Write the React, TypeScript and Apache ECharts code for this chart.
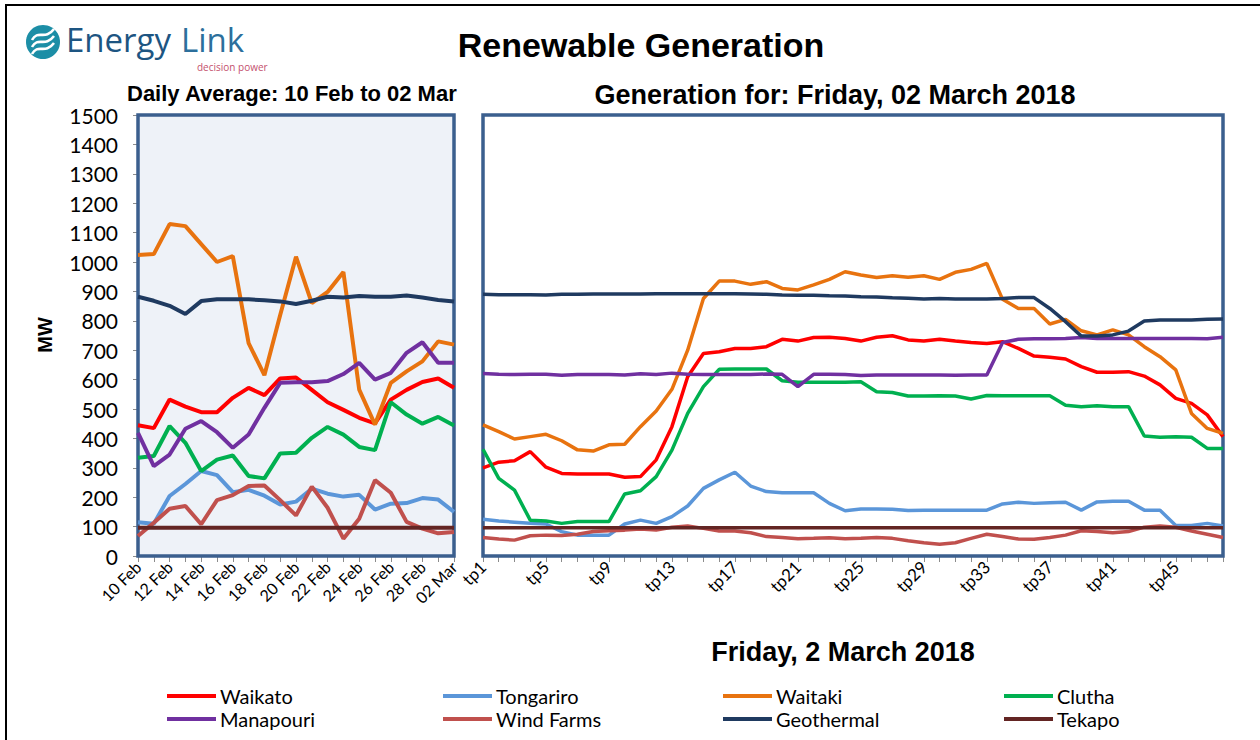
import React, { useEffect, useRef } from "react";
import * as echarts from "echarts";

const dayLabels = ["10 Feb","11 Feb","12 Feb","13 Feb","14 Feb","15 Feb","16 Feb","17 Feb","18 Feb","19 Feb","20 Feb","21 Feb","22 Feb","23 Feb","24 Feb","25 Feb","26 Feb","27 Feb","28 Feb","01 Mar","02 Mar"];
const tpLabels = ["tp1","tp2","tp3","tp4","tp5","tp6","tp7","tp8","tp9","tp10","tp11","tp12","tp13","tp14","tp15","tp16","tp17","tp18","tp19","tp20","tp21","tp22","tp23","tp24","tp25","tp26","tp27","tp28","tp29","tp30","tp31","tp32","tp33","tp34","tp35","tp36","tp37","tp38","tp39","tp40","tp41","tp42","tp43","tp44","tp45","tp46","tp47","tp48"];
const yTicks = [0, 1500, 100];

// Daily averages (MW)
const waikatoDaily = [445,435,532,508,489,489,538,572,547,604,607,565,523,497,470,451,532,565,592,604,572];
const tongariroDaily = [115,110,204,245,289,275,217,225,205,175,185,229,212,202,208,158,178,180,197,192,150];
const waitakiDaily = [1024,1027,1129,1122,1061,1000,1020,724,615,820,1018,860,898,966,566,447,589,628,662,730,719];
const cluthaDaily = [334,340,442,385,289,328,342,272,264,349,351,402,439,413,371,360,523,481,450,473,444];
const manapouriDaily = [419,306,345,433,459,421,368,413,504,589,591,591,595,619,657,600,623,691,727,657,657];
const windDaily = [68,113,161,170,108,190,207,238,240,190,138,236,164,59,127,258,215,116,93,77,82];
const geothermalDaily = [882,868,851,823,867,873,873,873,870,866,857,868,882,879,884,882,882,886,879,871,866];
const tekapoDaily = [96,96,96,96,96,96,96,96,96,96,96,96,96,96,96,96,96,96,96,96,96];

// Trading periods, Friday 2 March 2018 (MW)
const waikatoTp = [300,319,324,355,302,281,279,279,279,268,270,327,440,610,689,695,706,706,712,737,731,743,744,740,731,744,749,735,731,737,731,726,723,729,706,680,676,670,644,625,625,627,612,582,536,519,480,406];
const tongariroTp = [125,119,115,111,109,83,71,71,71,109,122,111,134,170,230,259,285,238,219,215,215,215,179,154,160,160,159,155,156,156,156,156,156,177,183,179,181,183,156,184,186,186,156,156,104,104,111,102];
const waitakiTp = [446,423,398,406,414,392,361,357,378,380,440,493,567,700,876,935,935,924,933,910,905,922,941,967,956,947,953,948,953,941,965,975,995,873,842,842,789,805,766,752,769,752,712,678,633,485,434,417];
const cluthaTp = [363,264,224,122,119,111,117,117,117,211,222,270,360,485,576,635,636,636,636,596,591,591,591,591,593,559,556,544,544,545,544,534,546,545,545,545,545,513,508,511,508,508,408,404,406,404,366,366];
const manapouriTp = [621,618,617,618,618,615,617,617,617,616,620,617,622,618,617,617,617,617,619,618,576,618,618,617,614,616,616,616,616,616,615,616,616,726,737,739,739,740,743,740,740,740,740,740,740,740,739,744];
const windTp = [63,58,54,69,71,70,74,83,86,88,92,88,98,102,94,85,85,79,66,63,59,60,62,59,60,63,60,52,45,40,45,60,74,66,58,57,63,71,86,83,79,83,98,102,98,85,74,63];
const geothermalTp = [890,889,889,889,888,890,890,891,891,891,891,892,892,892,892,892,892,891,890,888,887,887,885,884,882,881,878,877,874,876,874,874,874,876,879,879,842,797,748,748,752,765,799,803,803,803,805,806];
const tekapoTp = [96,96,96,96,96,96,96,96,96,96,96,96,96,96,96,96,96,96,96,96,96,96,96,96,96,96,96,96,96,96,96,96,96,96,96,96,96,96,96,96,96,96,96,96,96,96,96,96];

const seriesNames = ["Waikato","Tongariro","Waitaki","Clutha","Manapouri","Wind Farms","Geothermal","Tekapo"];
const seriesColors = ["#ff0000","#5b96d9","#e8730f","#00b050","#7030a0","#c0504d","#1f3a60","#632523"];
const dailyData = [waikatoDaily, tongariroDaily, waitakiDaily, cluthaDaily, manapouriDaily, windDaily, geothermalDaily, tekapoDaily];
const tpData = [waikatoTp, tongariroTp, waitakiTp, cluthaTp, manapouriTp, windTp, geothermalTp, tekapoTp];

const LABEL_FONT = "Lato, 'Open Sans', sans-serif";
const BOLD_FONT = "'Liberation Sans', Arial, sans-serif";

export default function App() {
  const ref = useRef<HTMLDivElement>(null);
  useEffect(() => {
    if (!ref.current) return;
    const chart = echarts.init(ref.current, null, { renderer: "svg" });

    const majorLine = { lineStyle: { color: "#a6a6a6", width: 1.5 } };
    const minorLine = { show: true, lineStyle: { color: "#dcdcdc", width: 2 } };

    const series: any[] = [];
    seriesNames.forEach((name, i) => {
      series.push({
        name, type: "line", xAxisIndex: 0, yAxisIndex: 0, data: dailyData[i],
        showSymbol: false, symbol: "none", lineStyle: { color: seriesColors[i], width: 4 },
        itemStyle: { color: seriesColors[i] }, z: 3 + i,
      });
    });
    seriesNames.forEach((name, i) => {
      series.push({
        name, type: "line", xAxisIndex: 1, yAxisIndex: 1, data: tpData[i],
        showSymbol: false, symbol: "none", lineStyle: { color: seriesColors[i], width: 3.5 },
        itemStyle: { color: seriesColors[i] }, z: 3 + i,
      });
    });

    const legendLeft = [167, 443, 723, 1004];
    const legendTop = [686, 709];
    const legends = seriesNames.map((name, i) => ({
      data: [name],
      left: legendLeft[i % 4],
      top: legendTop[Math.floor(i / 4)],
      padding: 0,
      icon: "rect",
      itemWidth: 49,
      itemHeight: 4,
      itemGap: 0,
      textStyle: { fontFamily: LABEL_FONT, fontSize: 20, color: "#000", padding: [0, 0, 0, -1] },
      selectedMode: false,
    }));

    const wave = (ox: number, oy: number) => ({
      type: "bezierCurve",
      shape: { x1: ox - 11, y1: oy + 5, cpx1: ox - 5, cpy1: oy - 6, cpx2: ox + 2, cpy2: oy + 6, x2: ox + 11, y2: oy - 6 },
      style: { stroke: "#ffffff", lineWidth: 2.6, fill: null },
      z: 11,
    });

    chart.setOption({
      animation: false,
      backgroundColor: "#ffffff",
      grid: [
        { left: 138, top: 115, width: 316, height: 441, show: true, backgroundColor: "#eef2f8", borderColor: "#3b5f8e", borderWidth: 3.5, z: 1 },
        { left: 483, top: 115, width: 740, height: 441, show: true, backgroundColor: "#ffffff", borderColor: "#3b5f8e", borderWidth: 3.5, z: 1 },
      ],
      xAxis: [
        {
          type: "category", gridIndex: 0, data: dayLabels, boundaryGap: false,
          axisLine: { show: true, lineStyle: { color: "#8c8c8c" } },
          axisTick: { show: true, interval: 0, length: 6, lineStyle: { color: "#8c8c8c" } },
          axisLabel: { interval: 1, rotate: 45, margin: 8, fontFamily: LABEL_FONT, fontSize: 16, color: "#000" },
          splitLine: { show: true, interval: 1, lineStyle: { color: "#d6d6d6", width: 1.5 } },
        },
        {
          type: "category", gridIndex: 1, data: tpLabels, boundaryGap: false,
          axisLine: { show: true, lineStyle: { color: "#8c8c8c" } },
          axisTick: { show: true, interval: 0, length: 6, lineStyle: { color: "#8c8c8c" } },
          axisLabel: { interval: 3, rotate: 45, margin: 8, fontFamily: LABEL_FONT, fontSize: 17, color: "#000" },
          splitLine: { show: true, interval: 7, lineStyle: { color: "#d6d6d6", width: 1.5 } },
        },
      ],
      yAxis: [
        {
          type: "value", gridIndex: 0, min: yTicks[0], max: yTicks[1], interval: yTicks[2],
          axisLine: { show: true, lineStyle: { color: "#8c8c8c" } },
          axisTick: { show: true, length: 5, lineStyle: { color: "#8c8c8c" } },
          axisLabel: { margin: 20, fontFamily: LABEL_FONT, fontSize: 21, color: "#000", formatter: (v: number) => String(v) },
          splitLine: { show: true, ...majorLine },
          minorTick: { show: false, splitNumber: 2 },
          minorSplitLine: minorLine,
        },
        {
          type: "value", gridIndex: 1, min: yTicks[0], max: yTicks[1], interval: yTicks[2],
          axisLine: { show: false }, axisTick: { show: false }, axisLabel: { show: false },
          splitLine: { show: true, ...majorLine },
          minorTick: { show: false, splitNumber: 2 },
          minorSplitLine: minorLine,
        },
      ],
      legend: legends,
      series,
      graphic: [
        { type: "rect", shape: { x: 6, y: 5, width: 1300, height: 800 }, style: { fill: null, stroke: "#000", lineWidth: 2 }, z: 0, silent: true },
        { type: "circle", shape: { cx: 43, cy: 42, r: 17 }, style: { fill: "#1c8ea6" }, z: 10 },
        wave(43, 35),
        wave(43, 42),
        wave(43, 49),
        { type: "text", x: 66, y: 39, style: { text: "Energy", fontFamily: "'Open Sans', Lato, sans-serif", fontSize: 33, lineHeight: 34, fill: "#1d5582", textVerticalAlign: "middle" }, z: 10 },
        { type: "text", x: 181, y: 39, style: { text: "Link", fontFamily: "'Open Sans', Lato, sans-serif", fontSize: 33, lineHeight: 34, fill: "#2c6f9c", textVerticalAlign: "middle" }, z: 10 },
        { type: "text", x: 197, y: 67, style: { text: "decision power", fontFamily: "'Open Sans', sans-serif", fontSize: 10, lineHeight: 10, fill: "#c4506e", textVerticalAlign: "middle" }, z: 10 },
        { type: "text", x: 641, y: 45, style: { text: "Renewable Generation", fontFamily: BOLD_FONT, fontWeight: "bold", fontSize: 34, fill: "#000", textAlign: "center", textVerticalAlign: "middle" }, z: 10 },
        { type: "text", x: 127, y: 93, style: { text: "Daily Average: 10 Feb to 02 Mar", fontFamily: BOLD_FONT, fontWeight: "bold", fontSize: 22, fill: "#000", textVerticalAlign: "middle" }, z: 10 },
        { type: "text", x: 835, y: 95, style: { text: "Generation for: Friday, 02 March 2018", fontFamily: BOLD_FONT, fontWeight: "bold", fontSize: 27, fill: "#000", textAlign: "center", textVerticalAlign: "middle" }, z: 10 },
        { type: "text", x: 843, y: 652, style: { text: "Friday, 2 March 2018", fontFamily: BOLD_FONT, fontWeight: "bold", fontSize: 27, fill: "#000", textAlign: "center", textVerticalAlign: "middle" }, z: 10 },
        { type: "text", x: 45, y: 335, rotation: Math.PI / 2, style: { text: "MW", fontFamily: BOLD_FONT, fontWeight: "bold", fontSize: 20, fill: "#000", textAlign: "center", textVerticalAlign: "middle" }, z: 10 },
      ],
    });
    return () => chart.dispose();
  }, []);

  return <div ref={ref} style={{ position: "fixed", left: 0, top: 0, width: 1260, height: 740 }} />;
}
